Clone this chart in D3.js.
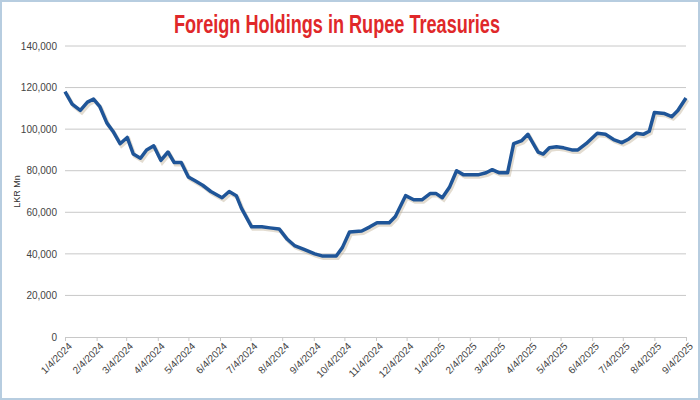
<!DOCTYPE html>
<html>
<head>
<meta charset="utf-8">
<script src="https://cdn.jsdelivr.net/npm/d3@7"></script>
<style>
body { margin: 0; background: #fff; }
svg { display: block; font-family: "Liberation Sans", Arial, sans-serif; }
</style>
</head>
<body>
<div id="chart"></div>
<script>
// days since 1/4/2024 and holdings (LKR Mn)
const dayOffsets = [0,7,15,22,28,34,41,47,54,61,67,74,80,87,94,101,107,114,121,128,135,143,154,161,168,173,183,193,201,210,218,225,235,245,252,266,272,279,291,299,306,318,324,334,342,350,358,364,370,377,384,391,405,413,419,426,434,440,448,454,464,469,475,482,489,497,503,511,522,530,538,546,552,560,567,573,578,588,595,601,609];
const holdings = [118000,112000,109000,113000,114500,111000,103000,99000,93000,96000,88000,86000,90000,92000,85000,89000,84000,84000,77000,75000,73000,70000,67000,70000,68000,62000,53000,53000,52500,52000,47000,44000,42000,40000,39000,39000,43000,50500,51000,53000,55000,55000,58000,68000,66000,66000,69000,69000,67000,72000,80000,78000,78000,79000,80500,79000,79000,93000,94500,97500,89000,88000,91000,91500,91000,90000,90000,93000,98000,97500,95000,93500,95000,98000,97500,99000,108000,107500,106000,109000,115000];
const yTicks = [0,20000,40000,60000,80000,100000,120000,140000];
const tickMonths = d3.range(0, 21).map(m => new Date(2024, m, 4));

const W = 700, H = 400;
const margin = {top: 46, right: 14, bottom: 63, left: 65};
const start = new Date(2024, 0, 4);
const data = dayOffsets.map((d, i) => ({date: d3.timeDay.offset(start, d), v: holdings[i]}));

const svg = d3.select("#chart").append("svg").attr("width", W).attr("height", H);

svg.append("rect").attr("x", 1).attr("y", 1).attr("width", W - 2).attr("height", H - 2)
    .attr("fill", "none").attr("stroke", "#b7cde0").attr("stroke-width", 2);

// no narrow font installed, so squeeze the title to the reference width
svg.append("text").attr("x", 174).attr("y", 33)
    .attr("textLength", 326).attr("lengthAdjust", "spacingAndGlyphs")
    .style("font-weight", "bold").style("font-size", "25px").attr("fill", "#e0282a")
    .text("Foreign Holdings in Rupee Treasuries");

const x = d3.scaleTime().domain([start, new Date(2025, 8, 4)]).range([margin.left, W - margin.right]);
const y = d3.scaleLinear().domain([0, 140000]).range([H - margin.bottom, margin.top]);

const grid = svg.append("g");
grid.selectAll("line").data(yTicks.slice(1)).join("line")
    .attr("x1", margin.left).attr("x2", W - margin.right)
    .attr("y1", d => y(d)).attr("y2", d => y(d))
    .attr("stroke", "#c8c8c8").attr("stroke-width", 1);

const yAxis = svg.append("g").attr("transform", `translate(${margin.left},0)`)
    .call(d3.axisLeft(y).tickValues(yTicks).tickFormat(d3.format(",")).tickSize(0).tickPadding(8));
yAxis.select(".domain").remove();
yAxis.selectAll("text").style("font-size", "10px").attr("fill", "#444");

const xAxis = svg.append("g").attr("transform", `translate(0,${H - margin.bottom})`)
    .call(d3.axisBottom(x).tickValues(tickMonths).tickFormat(d3.timeFormat("%-m/%-d/%Y")).tickSize(4));
xAxis.select(".domain").attr("stroke", "#c8c8c8");
xAxis.selectAll(".tick line").attr("stroke", "#c8c8c8");
xAxis.selectAll("text").style("font-size", "10px").attr("fill", "#444")
    .attr("text-anchor", "end").attr("dx", "-0.2em").attr("dy", "0.5em")
    .attr("transform", "rotate(-45)");

svg.append("text").attr("transform", `translate(20,${y(70000)}) rotate(-90)`)
    .attr("text-anchor", "middle").style("font-size", "9px").attr("fill", "#333").text("LKR Mn");

const line = d3.line().x(d => x(d.date)).y(d => y(d.v));
svg.append("path").datum(data).attr("d", line).attr("fill", "none")
    .attr("stroke", "#b9a88a").attr("stroke-opacity", 0.4).attr("stroke-width", 4)
    .attr("transform", "translate(1.5,2)");
svg.append("path").datum(data).attr("d", line).attr("fill", "none")
    .attr("stroke", "#1f5598").attr("stroke-width", 3.5).attr("stroke-linejoin", "round");
</script>
</body>
</html>
